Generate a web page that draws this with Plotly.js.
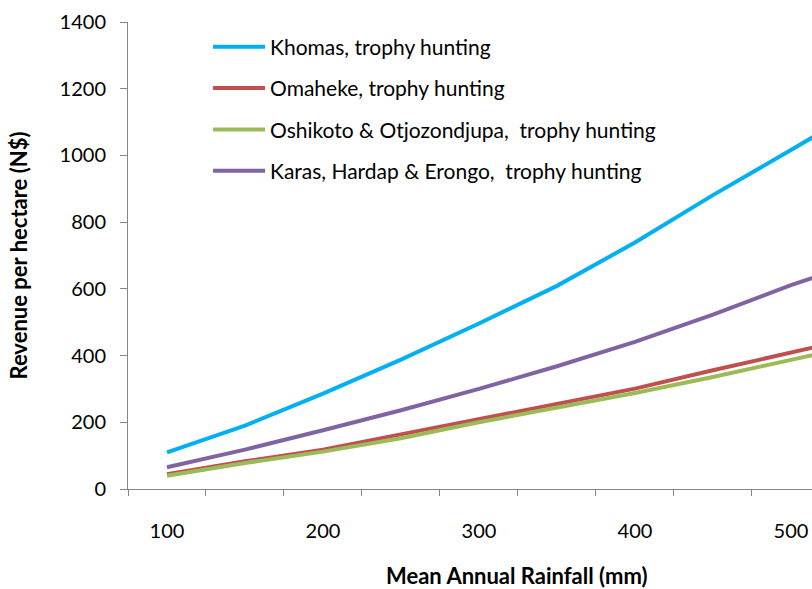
<!DOCTYPE html>
<html>
<head>
<meta charset="utf-8">
<script src="https://cdn.plot.ly/plotly-3.0.1.min.js"></script>
<style>html,body{margin:0;padding:0;background:#fff;}#chart{width:812px;height:589px;}</style>
</head>
<body>
<div id="chart"></div>
<script>
const rainfall = [100, 150, 200, 250, 300, 350, 400, 450, 500, 550];
const khomas = [110, 190, 286, 388, 496, 609, 739, 881, 1016, 1155];
const omaheke = [44, 83, 118, 163, 210, 256, 301, 356, 411, 462];
const oshikoto = [40, 78, 112, 152, 200, 243, 288, 336, 388, 438];
const karas = [65, 118, 176, 236, 300, 368, 441, 523, 611, 690];
const seriesNames = [
  "Khomas, trophy hunting",
  "Omaheke, trophy hunting",
  "Oshikoto & Otjozondjupa,  trophy hunting",
  "Karas, Hardap & Erongo,  trophy hunting"
];
const xTickVals = [100, 200, 300, 400, 500];
const xTickText = ["100", "200", "300", "400", "500"];
const yTickVals = [0, 200, 400, 600, 800, 1000, 1200, 1400];

const colors = ["#00B0F0", "#C0504D", "#9BBB59", "#8064A2"];
const data = [khomas, omaheke, oshikoto, karas].map((ys, i) => ({
  x: rainfall, y: ys, type: "scatter", mode: "lines",
  name: seriesNames[i], legendgroup: "g" + i,
  line: {color: colors[i], width: 4, shape: "linear"}
}));

const font = "Lato, 'Open Sans', sans-serif";
const layout = {
  width: 812, height: 589,
  margin: {l: 128, r: 0, t: 22, b: 100},
  paper_bgcolor: "#fff", plot_bgcolor: "#fff",
  showlegend: true,
  legend: {
    x: 0.117, y: 0.99, xanchor: "left", yanchor: "top",
    font: {family: font, size: 21, color: "#000"},
    bgcolor: "rgba(0,0,0,0)", tracegroupgap: 11, itemwidth: 52
  },
  xaxis: {
    range: [75, 513.5], showgrid: false, zeroline: false,
    showline: true, linecolor: "#868686", linewidth: 1,
    tickmode: "array", tickvals: xTickVals, ticktext: xTickText,
    ticks: "", ticklabelstandoff: 24,
    tickfont: {family: font, size: 20, color: "#000"},
    minor: {tickmode: "linear", tick0: 75, dtick: 50, ticks: "outside", ticklen: 6, tickcolor: "#868686", showgrid: false}
  },
  yaxis: {
    range: [0, 1400], showgrid: false, zeroline: false,
    showline: true, linecolor: "#868686", linewidth: 1,
    tickmode: "array", tickvals: yTickVals,
    ticks: "outside", ticklen: 7, tickcolor: "#868686",
    ticklabelstandoff: 10,
    tickfont: {family: font, size: 20, color: "#000"}
  },
  annotations: [
    {text: "<b>Mean Annual Rainfall (mm)</b>", xref: "paper", yref: "paper",
     x: (517 - 128) / 684, y: (489 - 575) / 467, xanchor: "center", yanchor: "middle",
     showarrow: false, font: {family: font, size: 22, color: "#000"}},
    {text: "<b>Revenue per hectare (N$)</b>", xref: "paper", yref: "paper",
     x: (18 - 128) / 684, y: 0.5, xanchor: "center", yanchor: "middle", textangle: -90,
     showarrow: false, font: {family: font, size: 22, color: "#000"}}
  ]
};
Plotly.newPlot("chart", data, layout, {staticPlot: true, displayModeBar: false});
</script>
</body>
</html>
